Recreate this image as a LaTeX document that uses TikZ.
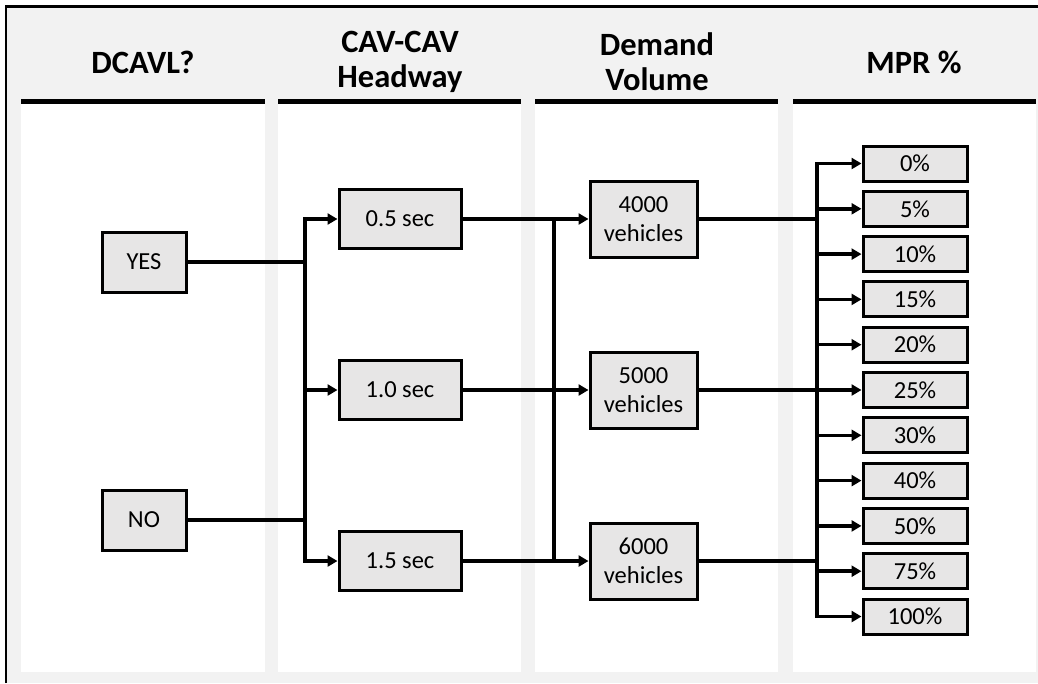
\documentclass[tikz,border=0pt]{standalone}
\usepackage{fontspec}
\setmainfont{Carlito}
\usetikzlibrary{arrows.meta}

\definecolor{bggray}{RGB}{242,242,242}
\definecolor{boxgray}{RGB}{231,230,230}

\tikzstyle{choice} = [rectangle,
minimum width=84pt,
minimum height=60pt,
text centered,
draw=black,
line width=3pt,
fill=boxgray,
font=\fontsize{24.5}{29}\selectfont]
\tikzstyle{headway} = [choice,
minimum width=122pt,
minimum height=59pt]
\tikzstyle{demand} = [choice,
minimum width=107pt,
minimum height=76pt,
align=center]
\tikzstyle{mpr} = [choice,
minimum width=104pt,
minimum height=35pt,
inner sep=0pt]
\tikzstyle{header} = [align=center,
font=\bfseries\fontsize{32.5}{35}\selectfont]
\tikzstyle{line} = [line width=3.5pt, line cap=rect]
\tikzstyle{arrow} = [line width=3.5pt, -{Triangle[length=10pt,width=11pt]}]

\begin{document}
\begin{tikzpicture}[x=1pt, y=-1pt, node distance=171pt]

\useasboundingbox (0,0) rectangle (1038,683);
\fill[white] (0,0) rectangle (1038,683);
\fill[bggray] (6,6) rectangle (1038,683);

% column panels
\fill[white] (21,101) rectangle (265,672);
\fill[white] (278,101) rectangle (521,672);
\fill[white] (535,101) rectangle (778,672);
\fill[white] (793,101) rectangle (1036,672);
\draw[line width=4.5pt] (21,101.5) -- (265,101.5);
\draw[line width=4.5pt] (278,101.5) -- (521,101.5);
\draw[line width=4.5pt] (535,101.5) -- (778,101.5);
\draw[line width=4.5pt] (793,101.5) -- (1036,101.5);

% frame
\draw[line width=2.5pt] (6,683) -- (6,6.5) -- (1038,6.5);

\node (hdcavl) [header] at (143,62) {DCAVL?};
\node (hheadway) [header] at (400,62) {CAV-CAV\\Headway};
\node (hdemand) [header] at (657,62) {Demand\\Volume};
\node (hmpr) [header] at (914,62) {MPR \%};

\node (yes) [choice] at (144,262) {YES};
\node (no) [choice, below of=yes, node distance=258pt] {NO};

\node (h05) [headway] at (400,219) {0.5 sec};
\node (h10) [headway, below of=h05] {1.0 sec};
\node (h15) [headway, below of=h10] {1.5 sec};

\node (v4000) [demand, right of=h05, xshift=72.5pt] {4000\\vehicles};
\node (v5000) [demand, right of=h10, xshift=72.5pt] {5000\\vehicles};
\node (v6000) [demand, right of=h15, xshift=72.5pt] {6000\\vehicles};

\node (m0) [mpr] at (915,163.5) {0\%};
\node (m5) [mpr, below of=m0, node distance=45.3pt] {5\%};
\node (m10) [mpr, below of=m5, node distance=45.3pt] {10\%};
\node (m15) [mpr, below of=m10, node distance=45.3pt] {15\%};
\node (m20) [mpr, below of=m15, node distance=45.3pt] {20\%};
\node (m25) [mpr, below of=m20, node distance=45.3pt] {25\%};
\node (m30) [mpr, below of=m25, node distance=45.3pt] {30\%};
\node (m40) [mpr, below of=m30, node distance=45.3pt] {40\%};
\node (m50) [mpr, below of=m40, node distance=45.3pt] {50\%};
\node (m75) [mpr, below of=m50, node distance=45.3pt] {75\%};
\node (m100) [mpr, below of=m75, node distance=45.3pt] {100\%};

\coordinate (ybus) at (305,0);
\coordinate (dbus) at (554,0);
\coordinate (mbus) at (817,0);

% DCAVL to headway
\draw [line] (yes.east) -- (yes.east -| ybus);
\draw [line] (no.east) -- (no.east -| ybus);
\draw [line] (yes.east -| ybus) -- (no.east -| ybus);
\draw [arrow] (yes.east -| ybus) |- (h05.west);
\draw [arrow] (h10.west -| ybus) -- (h10.west);
\draw [arrow] (no.east -| ybus) |- (h15.west);

% headway to demand
\draw [arrow] (h05.east) -- (v4000.west);
\draw [arrow] (h10.east) -- (v5000.west);
\draw [arrow] (h15.east) -- (v6000.west);
\draw [line] (h05.east -| dbus) -- (h15.east -| dbus);

% demand to MPR
\draw [line] (v4000.east) -- (v4000.east -| mbus);
\draw [line] (v6000.east) -- (v6000.east -| mbus);
\draw [line] (m5.west -| mbus) -- (m75.west -| mbus);
\draw [arrow] (m5.west -| mbus) |- (m0.west);
\draw [arrow] (m5.west -| mbus) -- (m5.west);
\draw [arrow] (m10.west -| mbus) -- (m10.west);
\draw [arrow] (m15.west -| mbus) -- (m15.west);
\draw [arrow] (m20.west -| mbus) -- (m20.west);
\draw [arrow] (v5000.east) -- (m25.west);
\draw [arrow] (m30.west -| mbus) -- (m30.west);
\draw [arrow] (m40.west -| mbus) -- (m40.west);
\draw [arrow] (m50.west -| mbus) -- (m50.west);
\draw [arrow] (m75.west -| mbus) -- (m75.west);
\draw [arrow] (m75.west -| mbus) |- (m100.west);

\end{tikzpicture}
\end{document}
